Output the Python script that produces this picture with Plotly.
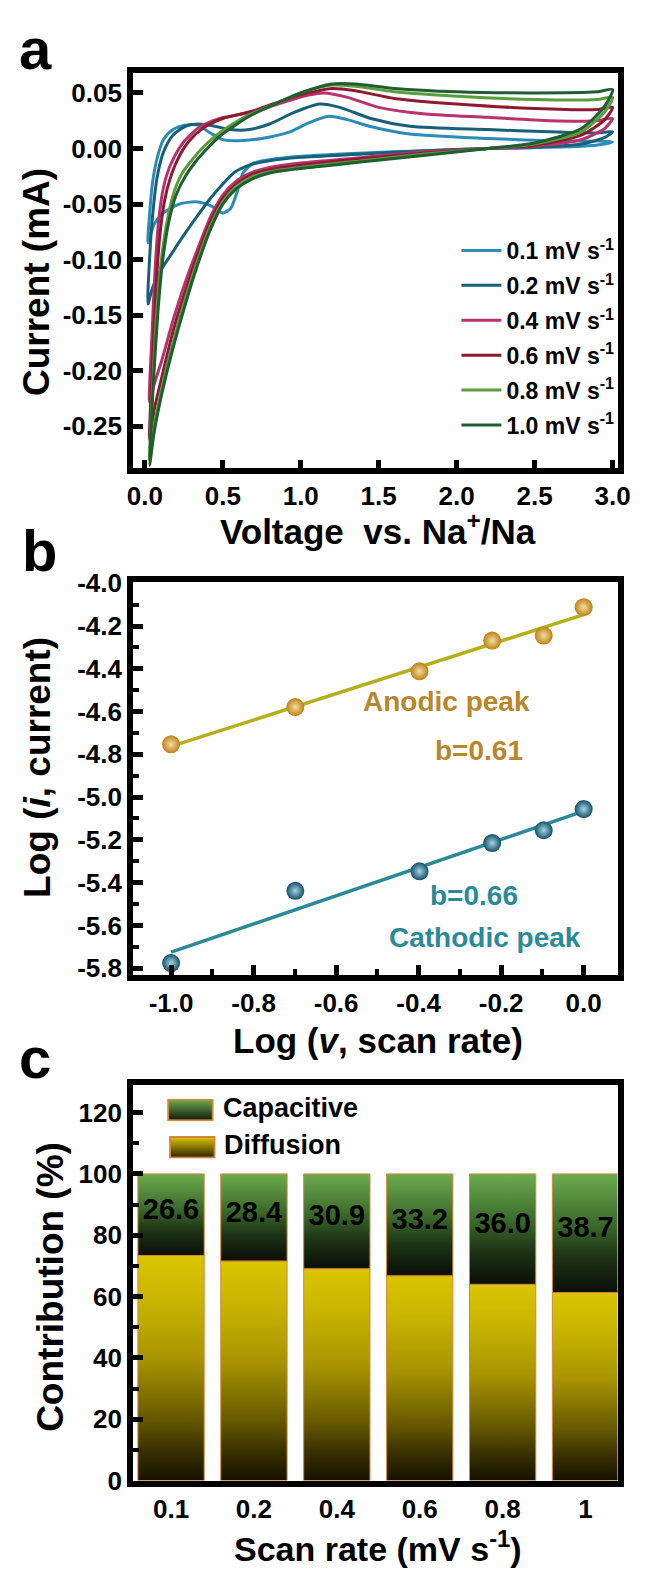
import base64
import numpy as np
import plotly.graph_objects as go

# ---------------- Panel a : CV curves (Voltage vs. Na+/Na, current mA) ----------------
cv_rates = ["0.1", "0.2", "0.4", "0.6", "0.8", "1.0"]
cv_colors = ["#2b8cb6", "#17607a", "#b8336c", "#8c1b32", "#5c9c3c", "#1f5e30"]

V_0p1 = [0.02, 0.03, 0.05, 0.08, 0.12, 0.18, 0.26, 0.34, 0.42, 0.50, 0.60, 0.75, 0.93, 1.05, 1.18, 1.30, 1.44, 1.70, 2.20, 2.60, 3.00,
         2.95, 2.80, 2.50, 2.20, 1.80, 1.40, 1.00, 0.80, 0.70, 0.63, 0.59, 0.55, 0.50, 0.43, 0.33, 0.22, 0.12, 0.06, 0.02]
I_0p1 = [-0.085, -0.060, -0.030, -0.008, 0.008, 0.017, 0.021, 0.021, 0.014, 0.008, 0.007, 0.009, 0.015, 0.023, 0.029, 0.026, 0.020, 0.013, 0.009, 0.007, 0.006,
         0.004, 0.002, 0.001, 0.000, -0.002, -0.004, -0.007, -0.010, -0.013, -0.022, -0.040, -0.054, -0.058, -0.052, -0.048, -0.050, -0.058, -0.068, -0.085]

V_0p2 = [0.02, 0.03, 0.05, 0.08, 0.12, 0.18, 0.26, 0.35, 0.45, 0.55, 0.67, 0.80, 0.95, 1.12, 1.25, 1.45, 1.70, 2.20, 2.60, 2.90, 3.00,
         2.95, 2.80, 2.50, 2.20, 1.80, 1.40, 1.00, 0.80, 0.67, 0.57, 0.50, 0.42, 0.33, 0.25, 0.17, 0.10, 0.05, 0.02]
I_0p2 = [-0.140, -0.100, -0.060, -0.025, -0.003, 0.012, 0.020, 0.022, 0.020, 0.017, 0.017, 0.022, 0.032, 0.040, 0.037, 0.027, 0.020, 0.017, 0.015, 0.014, 0.015,
         0.010, 0.004, 0.001, 0.000, -0.002, -0.005, -0.008, -0.011, -0.015, -0.022, -0.032, -0.045, -0.062, -0.078, -0.095, -0.110, -0.125, -0.140]

V_0p4 = [0.03, 0.045, 0.065, 0.085, 0.11, 0.14, 0.18, 0.25, 0.35, 0.48, 0.70, 0.90, 1.05, 1.15, 1.30, 1.50, 1.80, 2.20, 2.60, 2.90, 3.00,
         2.95, 2.80, 2.50, 2.20, 1.80, 1.40, 1.00, 0.80, 0.68, 0.58, 0.50, 0.42, 0.34, 0.26, 0.18, 0.11, 0.06, 0.03]
I_0p4 = [-0.228, -0.170, -0.110, -0.070, -0.042, -0.024, -0.010, 0.006, 0.019, 0.027, 0.033, 0.042, 0.048, 0.050, 0.046, 0.037, 0.031, 0.028, 0.025, 0.025, 0.027,
         0.018, 0.008, 0.002, 0.000, -0.003, -0.008, -0.013, -0.017, -0.022, -0.030, -0.042, -0.062, -0.090, -0.120, -0.155, -0.190, -0.212, -0.228]

V_0p6 = [0.03, 0.05, 0.07, 0.095, 0.125, 0.16, 0.21, 0.28, 0.38, 0.50, 0.70, 0.90, 1.05, 1.20, 1.35, 1.60, 2.00, 2.50, 2.90, 3.00,
         2.95, 2.80, 2.50, 2.20, 1.80, 1.40, 1.00, 0.80, 0.68, 0.58, 0.50, 0.42, 0.34, 0.26, 0.18, 0.11, 0.06, 0.03]
I_0p6 = [-0.262, -0.190, -0.130, -0.080, -0.048, -0.028, -0.010, 0.006, 0.019, 0.027, 0.034, 0.044, 0.050, 0.054, 0.052, 0.045, 0.040, 0.036, 0.035, 0.037,
         0.026, 0.012, 0.003, 0.000, -0.004, -0.009, -0.015, -0.019, -0.024, -0.033, -0.045, -0.066, -0.095, -0.128, -0.165, -0.205, -0.235, -0.262]

V_0p8 = [0.03, 0.055, 0.08, 0.11, 0.15, 0.19, 0.24, 0.31, 0.38, 0.46, 0.55, 0.65, 0.80, 1.00, 1.20, 1.35, 1.60, 2.00, 2.50, 2.90, 3.00,
         2.95, 2.80, 2.50, 2.20, 1.80, 1.40, 1.00, 0.80, 0.68, 0.58, 0.50, 0.42, 0.34, 0.26, 0.18, 0.11, 0.06, 0.03]
I_0p8 = [-0.280, -0.200, -0.140, -0.095, -0.060, -0.038, -0.022, -0.009, 0.002, 0.012, 0.021, 0.029, 0.038, 0.050, 0.057, 0.056, 0.051, 0.047, 0.044, 0.044, 0.046,
         0.033, 0.015, 0.004, 0.000, -0.005, -0.011, -0.017, -0.021, -0.026, -0.035, -0.048, -0.070, -0.100, -0.135, -0.175, -0.215, -0.250, -0.280]

V_1p0 = [0.03, 0.055, 0.085, 0.115, 0.155, 0.20, 0.26, 0.33, 0.40, 0.48, 0.57, 0.67, 0.82, 1.00, 1.20, 1.35, 1.60, 2.00, 2.50, 2.90, 3.00,
         2.95, 2.80, 2.50, 2.20, 1.80, 1.40, 1.00, 0.80, 0.68, 0.58, 0.50, 0.42, 0.34, 0.26, 0.18, 0.11, 0.06, 0.03]
I_1p0 = [-0.285, -0.210, -0.145, -0.100, -0.065, -0.042, -0.025, -0.011, 0.000, 0.011, 0.020, 0.029, 0.039, 0.050, 0.058, 0.058, 0.054, 0.051, 0.050, 0.051, 0.053,
         0.038, 0.018, 0.005, 0.000, -0.006, -0.012, -0.018, -0.022, -0.028, -0.037, -0.050, -0.073, -0.104, -0.140, -0.180, -0.220, -0.255, -0.285]

cv_V = [V_0p1, V_0p2, V_0p4, V_0p6, V_0p8, V_1p0]
cv_I = [I_0p1, I_0p2, I_0p4, I_0p6, I_0p8, I_1p0]

a_xticks = [0.0, 0.5, 1.0, 1.5, 2.0, 2.5, 3.0]
a_yticks = [-0.25, -0.20, -0.15, -0.10, -0.05, 0.00, 0.05]

# ---------------- Panel b : log(i) vs log(v) ----------------
scan_rates = [0.1, 0.2, 0.4, 0.6, 0.8, 1.0]
log_i_anodic = [-4.753, -4.579, -4.412, -4.268, -4.245, -4.112]
log_i_cathodic = [-5.776, -5.438, -5.347, -5.215, -5.155, -5.056]
b_xticks = [-1.0, -0.8, -0.6, -0.4, -0.2, 0.0]
b_yticks = [-5.8, -5.6, -5.4, -5.2, -5.0, -4.8, -4.6, -4.4, -4.2, -4.0]

# ---------------- Panel c : contribution bars ----------------
c_labels = ["0.1", "0.2", "0.4", "0.6", "0.8", "1"]
capacitive = [26.6, 28.4, 30.9, 33.2, 36.0, 38.7]
c_yticks = [0, 20, 40, 60, 80, 100, 120]

# ---------------- styling ----------------
W, H = 648, 1580
FONT = "Liberation Sans"
BLACK = "black"


def px(x):
    return x / W


def py(y):
    return 1 - y / H


tickfont = dict(family=FONT, size=26, color=BLACK, weight="bold")


def axis_style(**kw):
    d = dict(showline=True, linewidth=6, linecolor=BLACK, mirror=True,
             ticks="inside", ticklen=10, tickwidth=5, tickcolor=BLACK,
             showgrid=False, zeroline=False, tickfont=tickfont)
    d.update(kw)
    return d


def fmt(v, n):
    s = f"{v:.{n}f}"
    if s.startswith("-") and float(s) == 0:
        s = s[1:]
    return s


fig = go.Figure()

# Panel a traces
for name, V, I, col in zip(cv_rates, cv_V, cv_I, cv_colors):
    fig.add_trace(go.Scatter(
        x=V, y=I, mode="lines", name=f"{name} mV s<sup>-1</sup>", legendgroup=name,
        line=dict(color=col, width=3, shape="spline", smoothing=0.7),
        xaxis="x", yaxis="y"))

# Panel b traces
log_v = np.log10(scan_rates)
for yvals, lcol, mcol, hcol in [
        (log_i_anodic, "#b4b01a", "#bb8217", "#f6dca0"),
        (log_i_cathodic, "#2a8a96", "#135069", "#a6d4e4")]:
    k, b0 = np.polyfit(log_v, yvals, 1)
    fx = np.array([log_v.min(), log_v.max()])
    fig.add_trace(go.Scatter(x=fx, y=k * fx + b0, mode="lines",
                             line=dict(color=lcol, width=3.5),
                             xaxis="x2", yaxis="y2", showlegend=False))
    fig.add_trace(go.Scatter(x=log_v, y=yvals, mode="markers",
                             marker=dict(size=18, color=mcol,
                                         gradient=dict(type="radial", color=hcol),
                                         line=dict(width=0)),
                             xaxis="x2", yaxis="y2", showlegend=False))

# Panel c traces: gradient-filled stacked bars
half = 0.4
diff_scale = [[0, "#161200"], [0.14, "#3b3200"], [0.27, "#655800"], [0.54, "#a89400"], [0.82, "#cbb700"], [1, "#d9c500"]]
cap_scale = [[0, "#0a0e06"], [0.3, "#1d3315"], [0.6, "#3e6e2d"], [1, "#6cab4e"]]
for i, c in enumerate(capacitive):
    d = 100 - c
    xs = [i - half, i + half, i + half, i - half, i - half]
    fig.add_trace(go.Scatter(x=xs, y=[0, 0, d, d, 0], mode="lines", fill="toself",
                             line=dict(color="#d4883a", width=1),
                             fillgradient=dict(type="vertical", colorscale=diff_scale),
                             xaxis="x3", yaxis="y3", showlegend=False))
    fig.add_trace(go.Scatter(x=xs, y=[d, d, 100, 100, d], mode="lines", fill="toself",
                             line=dict(color="#d4883a", width=1),
                             fillgradient=dict(type="vertical", colorscale=cap_scale),
                             xaxis="x3", yaxis="y3", showlegend=False))
fig.add_trace(go.Scatter(x=list(range(len(capacitive))),
                         y=[100 - c / 2 + 1 for c in capacitive],
                         text=[f"{c:.1f}" for c in capacitive], mode="text",
                         textfont=dict(family=FONT, size=29, color=BLACK, weight="bold"),
                         xaxis="x3", yaxis="y3", showlegend=False))


def grad_svg(top, bottom):
    svg = ("<svg xmlns='http://www.w3.org/2000/svg' width='48' height='23' viewBox='0 0 48 23' "
           "preserveAspectRatio='none'><defs><linearGradient id='g' x1='0' y1='0' x2='0' y2='1'>"
           f"<stop offset='0' stop-color='{top}'/><stop offset='1' stop-color='{bottom}'/>"
           "</linearGradient></defs><rect x='1' y='1' width='46' height='21' fill='url(#g)' "
           "stroke='#d2863a' stroke-width='2'/></svg>")
    return "data:image/svg+xml;base64," + base64.b64encode(svg.encode()).decode()


xdom = [px(131), px(630)]
minor_b = dict(ticks="inside", ticklen=6, tickwidth=4, tickcolor=BLACK, dtick=0.1, tick0=0, showgrid=False)
layout_axes = dict(
    xaxis=axis_style(domain=xdom, anchor="y", range=[-0.075, 3.032],
                     tickvals=a_xticks, ticktext=[fmt(v, 1) for v in a_xticks], ticklen=8),
    yaxis=axis_style(domain=[py(462), py(60)], anchor="x", range=[-0.287, 0.068],
                     tickvals=a_yticks, ticktext=[fmt(v, 2) for v in a_yticks]),
    xaxis2=axis_style(domain=xdom, anchor="y2", range=[-1.092, 0.082],
                      tickvals=b_xticks, ticktext=[fmt(v, 1) for v in b_xticks], minor=minor_b),
    yaxis2=axis_style(domain=[py(979), py(579)], anchor="x2", range=[-5.832, -3.996],
                      tickvals=b_yticks, ticktext=[fmt(v, 1) for v in b_yticks], minor=minor_b),
    xaxis3=axis_style(domain=xdom, anchor="y3", range=[-0.457, 5.386],
                      tickvals=list(range(len(c_labels))), ticktext=c_labels, ticks=""),
    yaxis3=axis_style(domain=[py(1494), py(1091)], anchor="x3", range=[0, 129],
                      tickvals=c_yticks, ticktext=[str(v) for v in c_yticks],
                      minor=dict(ticks="inside", ticklen=6, tickwidth=4, tickcolor=BLACK, dtick=10, tick0=0, showgrid=False)),
)

ann = []


def add_text(text, x, y, size, color=BLACK, angle=0, xanchor="center", family=FONT, weight="bold", ref="paper"):
    d = dict(text=text, showarrow=False, xanchor=xanchor, yanchor="middle", textangle=angle,
             font=dict(family=family, size=size, color=color, weight=weight))
    if ref == "paper":
        d.update(xref="paper", yref="paper", x=px(x), y=py(y))
    else:
        d.update(xref="x2", yref="y2", x=x, y=y)
    ann.append(d)


# panel letters
add_text("a", 30, 35, 58)
add_text("b", 34, 547, 58)
add_text("c", 30, 1063, 58)
# axis titles
add_text("Voltage  vs. Na<sup>+</sup>/Na", 383, 525, 35)
add_text("Log (<i>v</i>, scan rate)", 383, 1046, 35)
add_text("Scan rate (mV s<sup>-1</sup>)", 383, 1561, 34)
add_text("Current (mA)", 32, 273, 37, angle=-90)
add_text("Log (<i>i</i>, current)", 33, 768, 37, angle=-90)
add_text("Contribution (%)", 46, 1297, 37, angle=-90)
# panel b labels
add_text("Anodic peak", -0.332, -4.555, 28, color="#b8862b", ref="data")
add_text("b=0.61", -0.253, -4.78, 28, color="#b8862b", ref="data")
add_text("b=0.66", -0.266, -5.459, 28, color="#2a8a96", ref="data")
add_text("Cathodic peak", -0.238, -5.655, 28, color="#2a8a96", ref="data")
# panel c legend
add_text("Capacitive", 221, 1114, 27, xanchor="left")
add_text("Diffusion", 223, 1152, 27, xanchor="left")

images = [
    dict(source=grad_svg("#6cab4e", "#111a0c"), xref="paper", yref="paper", x=px(166), y=py(1105),
         sizex=48 / W, sizey=23 / H, xanchor="left", yanchor="top", sizing="stretch", layer="above"),
    dict(source=grad_svg("#dcc800", "#2a2300"), xref="paper", yref="paper", x=px(168), y=py(1143),
         sizex=48 / W, sizey=23 / H, xanchor="left", yanchor="top", sizing="stretch", layer="above"),
]

fig.update_layout(
    width=W, height=H, margin=dict(l=0, r=0, t=0, b=0),
    paper_bgcolor="white", plot_bgcolor="white", hovermode=False,
    legend=dict(x=px(464), y=py(219), xanchor="left", yanchor="top",
                font=dict(family=FONT, size=23, color=BLACK, weight="bold"),
                bgcolor="rgba(0,0,0,0)", tracegroupgap=2, itemwidth=40),
    annotations=ann, images=images,
    **layout_axes,
)

fig.write_html("out.html")
